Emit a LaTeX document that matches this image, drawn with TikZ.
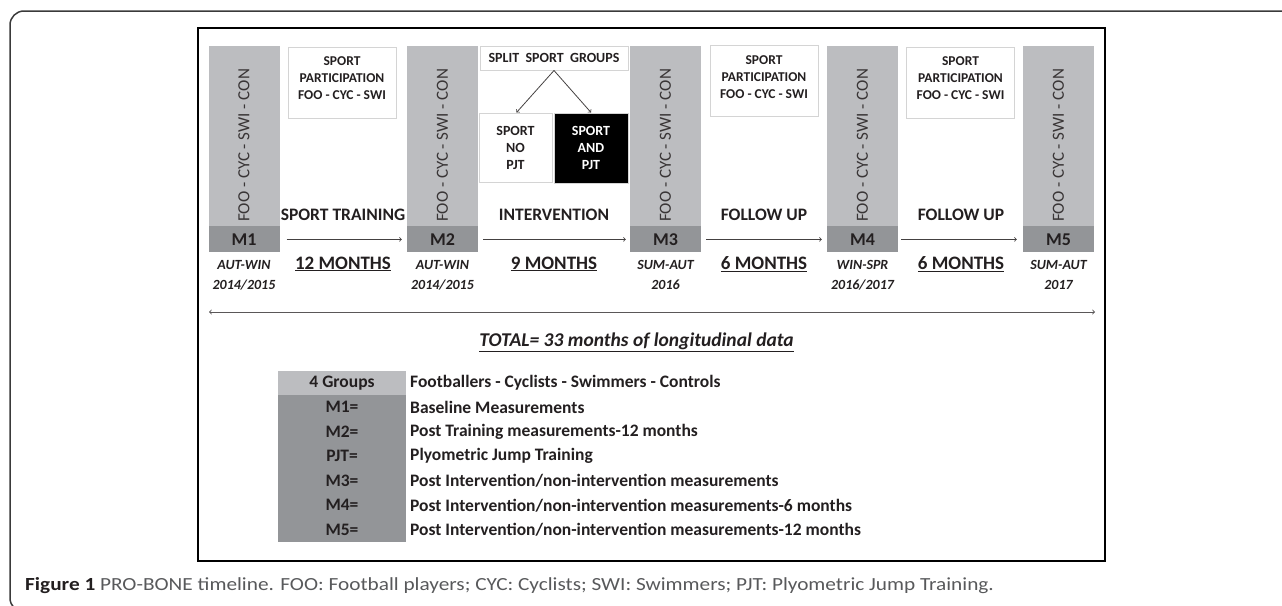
\documentclass[tikz,border=0pt]{standalone}
\usepackage{fontspec}
\setmainfont{Carlito}
\newfontfamily\captionfont[FakeStretch=1.15]{Carlito}
\usetikzlibrary{positioning}
\definecolor{ink}{HTML}{231F20}
\definecolor{barlight}{HTML}{BCBDC0}
\definecolor{bardark}{HTML}{939598}
\definecolor{boxline}{HTML}{D4D4D4}
\definecolor{framegray}{HTML}{3A3A3A}
\definecolor{captiongray}{HTML}{58595B}

\begin{document}
\begin{tikzpicture}[x=1pt,y=-1pt,
  every node/.style={text=ink},
  bar/.style={fill=barlight,minimum width=71pt,minimum height=180pt,inner sep=0pt},
  mbox/.style={fill=bardark,minimum width=71pt,minimum height=26pt,inner sep=0pt,
    font=\bfseries\fontsize{18}{18}\selectfont},
  groups/.style={rotate=90,anchor=west,inner sep=0pt,text=ink!90,
    font=\fontsize{17}{17}\selectfont},
  season/.style={align=center,inner sep=0pt,font=\bfseries\itshape\fontsize{14}{20}\selectfont},
  partbox/.style={draw=boxline,line width=1pt,minimum width=108pt,minimum height=71pt,inner sep=0pt},
  parttext/.style={align=center,inner sep=0pt,font=\bfseries\fontsize{13.5}{17}\selectfont},
  phase/.style={inner sep=0pt,font=\bfseries\fontsize{17.5}{17.5}\selectfont},
  period/.style={inner sep=0pt,font=\bfseries\fontsize{19}{19}\selectfont},
  flow/.style={->,draw=ink!85,line width=0.8pt},
  legkey/.style={minimum width=128pt,minimum height=24.5pt,inner sep=0pt,
    font=\bfseries\fontsize{17.5}{17.5}\selectfont},
  legtext/.style={anchor=west,inner sep=0pt,font=\bfseries\fontsize{17.5}{17.5}\selectfont}]

\useasboundingbox (0,0) rectangle (1282,605);

% outer frame and figure box
\draw[framegray,line width=1.5pt,rounded corners=14pt] (1300,11) -- (10,11) -- (10,612) -- (40,612);
\draw[black,line width=1.3pt] (198,28) rectangle (1105,561);

% measurement bars
\foreach \i/\x in {1/244,2/442.5,3/665.5,4/862.5,5/1058.5} {
  \node[bar] (bar\i) at (\x,136) {};
  \node[mbox,below=0pt of bar\i] (m\i) {M\i};
  \node[groups] at (\x,222) {FOO - CYC - SWI - CON};
}

% seasons
\node[season] (s1) at (244,275) {AUT-WIN\\2014/2015};
\node[season] (s2) at (442.5,275) {AUT-WIN\\2014/2015};
\node[season] (s3) at (665.5,275) {SUM-AUT\\2016};
\node[season] (s4) at (862.5,275) {WIN-SPR\\2016/2017};
\node[season] (s5) at (1058.5,275) {SUM-AUT\\2017};

% sport participation boxes
\foreach \j/\x/\y in {1/342/82.5,2/764/81,3/960.5/82.5} {
  \node[partbox] (part\j) at (\x,\y) {};
  \node[parttext] at ([yshift=4pt]part\j.center) {SPORT\\PARTICIPATION\\FOO - CYC - SWI};
}

% split groups
\node[draw=boxline,line width=1pt,minimum width=148pt,minimum height=24pt,inner sep=0pt,
  font=\bfseries\fontsize{14}{14}\selectfont] (split) at (554,58) {SPLIT\ \ SPORT\ \ GROUPS};
\node[draw=boxline,line width=1pt,minimum width=73pt,minimum height=69pt,inner sep=0pt,
  align=center,font=\bfseries\fontsize{14}{17}\selectfont] (nopjt) at (515.5,147.5) {SPORT\\NO\\PJT};
\node[fill=black,draw=boxline,line width=1pt,minimum width=74pt,minimum height=70pt,inner sep=0pt,
  align=center,text=white,font=\bfseries\fontsize{14}{17}\selectfont] (pjt) at (591,148) {SPORT\\AND\\PJT};
\draw[flow] (split.south) -- ([xshift=1pt]nopjt.north);
\draw[flow] (split.south) -- (pjt.north);

% phases
\node[phase] (ph1) at (343,215) {SPORT TRAINING};
\node[phase] (ph2) at (554,215) {INTERVENTION};
\node[phase] (ph3) at (764,215) {FOLLOW UP};
\node[phase] (ph4) at (961,215) {FOLLOW UP};
\draw[flow] ([xshift=7pt]m1.east) -- ([xshift=-5pt]m2.west);
\draw[flow] ([xshift=5pt]m2.east) -- ([xshift=-4pt]m3.west);
\draw[flow] ([xshift=5pt]m3.east) -- ([xshift=-5pt]m4.west);
\draw[flow] ([xshift=3pt]m4.east) -- ([xshift=-6pt]m5.west);
\node[period] (p1) at (343,264) {\underline{12 MONTHS}};
\node[period] (p2) at (554,264) {\underline{9 MONTHS}};
\node[period] (p3) at (764,264) {\underline{6 MONTHS}};
\node[period] (p4) at (961,264) {\underline{6 MONTHS}};

% total span
\coordinate (tstart) at (209,312);
\coordinate (tend) at (1095,312);
\draw[<->,draw=ink!75,line width=0.9pt] (tstart) -- (tend);
\node[inner sep=0pt,font=\bfseries\itshape\fontsize{19.5}{19.5}\selectfont] (total) at (636.5,342)
  {\underline{TOTAL= 33 months of longitudinal data}};

% legend
\node[legkey,fill=barlight,minimum height=24pt] (key0) at (342,383) {4 Groups};
\node[legtext] (val0) at (410,383) {Footballers - Cyclists - Swimmers - Controls};
\foreach \k/\v [count=\n] in {M1=/{Baseline Measurements},
    M2=/{Post Training measurements-12 months},
    PJT=/{Plyometric Jump Training},
    M3=/{Post Intervention/non-intervention measurements},
    M4=/{Post Intervention/non-intervention measurements-6 months},
    M5=/{Post Intervention/non-intervention measurements-12 months}} {
  \node[legkey,fill=bardark] (key\n) at (342,382.75+24.5*\n) {\k};
  \node[legtext] (val\n) at (410,382.75+24.5*\n) {\v};
}

% caption
\node[anchor=base west,inner sep=0pt,text=captiongray,font=\captionfont\fontsize{18.5}{18.5}\selectfont] (caption) at (25,590)
  {\textcolor{ink}{\bfseries Figure 1} PRO-BONE timeline. FOO: Football players; CYC: Cyclists; SWI: Swimmers; PJT: Plyometric Jump Training.};
\end{tikzpicture}
\end{document}
